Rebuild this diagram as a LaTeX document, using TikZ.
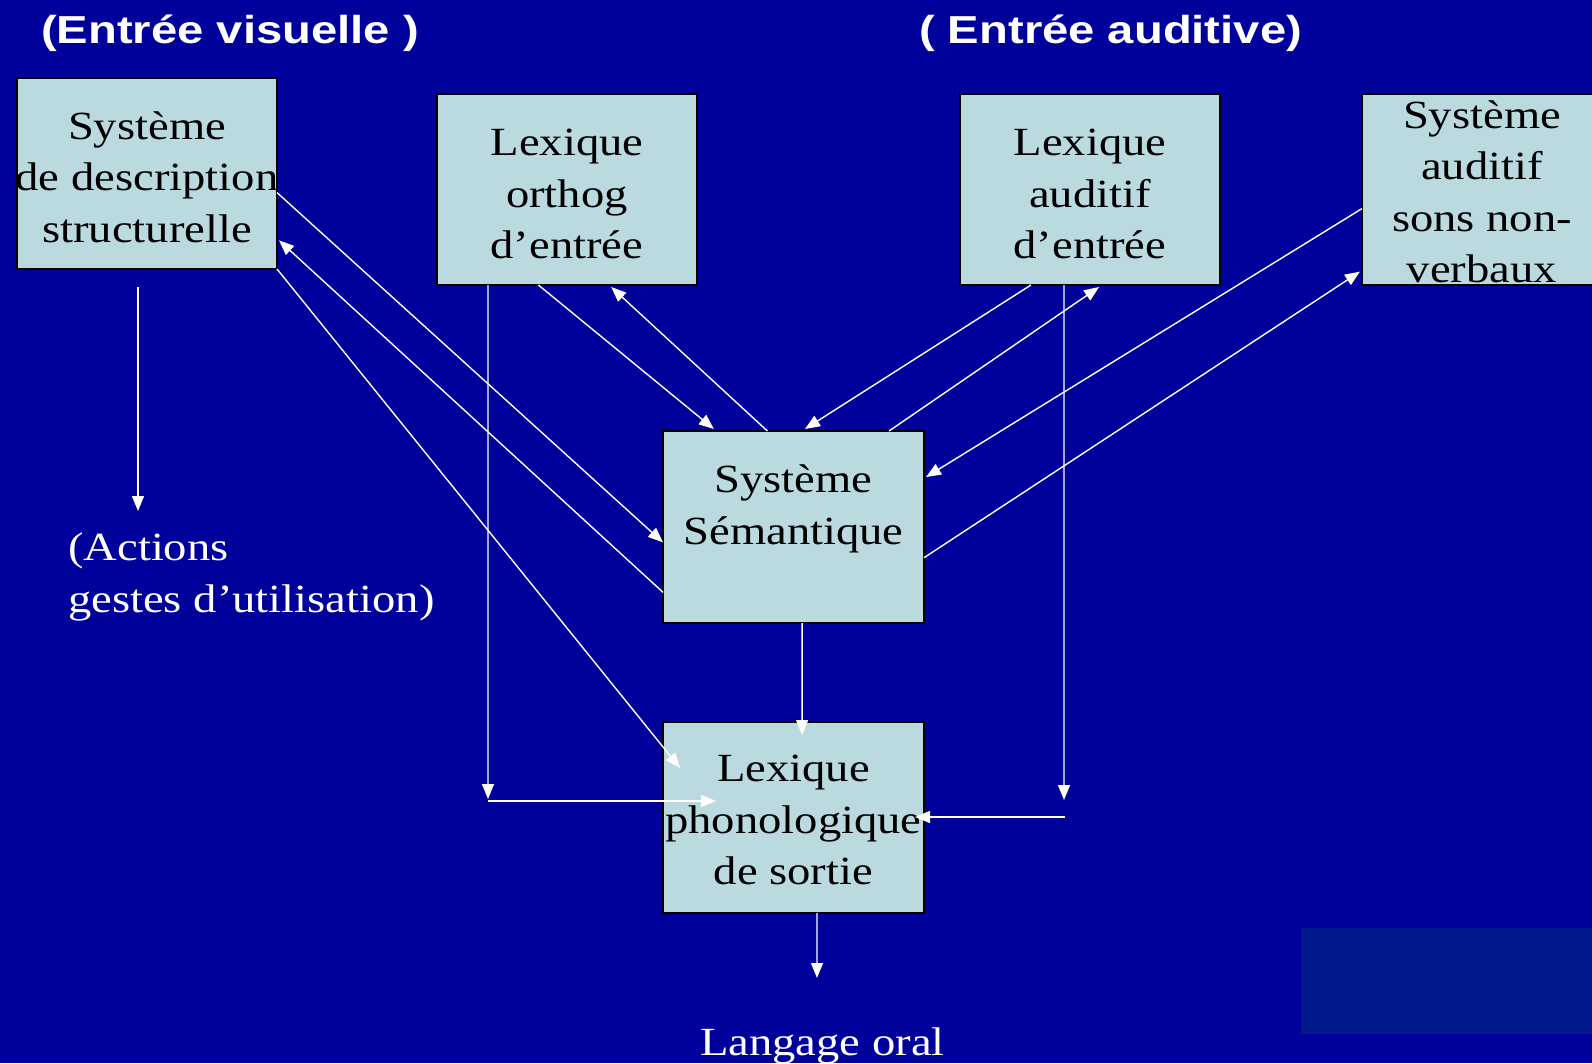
\documentclass[tikz,border=0pt]{standalone}
\usepackage{fontspec}
\setmainfont{Liberation Serif}
\newfontfamily\serifx{Liberation Serif}[FakeStretch=1.165]
\newfontfamily\sansx{Liberation Sans}[FakeStretch=1.21]
\usetikzlibrary{arrows.meta,calc}
\definecolor{bgblue}{RGB}{0,0,155}
\definecolor{patchblue}{RGB}{0,26,140}
\definecolor{boxfill}{RGB}{186,218,224}
\begin{document}
\begin{tikzpicture}[x=1pt,y=1pt,
  box/.style={draw=black, line width=1.5pt, fill=boxfill, minimum width=260pt, minimum height=191pt, inner sep=0pt, outer sep=0pt},
  boxtext/.style={font=\serifx\fontsize{40}{51.5}\selectfont, align=center, inner sep=0pt, text=black},
  wtext/.style={font=\serifx\fontsize{40}{51.5}\selectfont, align=left, inner sep=0pt, text=white},
  titletext/.style={font=\sansx\bfseries\fontsize{39}{46}\selectfont, text=white, inner sep=0pt, anchor=west},
  conn/.style={draw=white, line width=1.4pt, -{Triangle[length=15pt,width=12pt]}},
  plainline/.style={draw=white, line width=1.4pt}
]
\path[use as bounding box] (0,0) rectangle (1592,-1063);
\clip (0,0) rectangle (1592,-1063);
\fill[bgblue] (0,0) rectangle (1592,-1063);
\fill[patchblue] (1301,-928) rectangle (1592,-1034);

% titles
\node[titletext] (tv) at (41,-33) {(Entrée visuelle )};
\node[titletext] (ta) at (919,-33) {( Entrée auditive)};

% boxes
\node[box] (b1) at (147,-173.5) {};
\node[box] (b2) at (567,-189.5) {};
\node[box] (b3) at (1090,-189.5) {};
\node[box] (b4) at (1492,-189.5) {};
\node[box, minimum width=261pt, minimum height=192pt] (b5) at (793.5,-527) {};
\node[box, minimum width=261pt] (b6) at (793.5,-817.5) {};

% box texts
\node[boxtext] (t1) at (147,-177) {Système\\de description\\structurelle};
\node[boxtext] (t2) at (567,-194) {Lexique\\orthog\\d’entrée};
\node[boxtext] (t3) at (1090,-194) {Lexique\\auditif\\d’entrée};
\node[boxtext] (t4) at (1482,-192) {Système\\auditif\\sons non-\\verbaux};
\node[boxtext] (t5) at (793.5,-509) {Système\\Sémantique};
\node[boxtext] (t6) at (793.5,-820) {Lexique\\phonologique\\de sortie};

% free texts
\node[wtext, anchor=west] (act) at (68,-577) {(Actions\\gestes d’utilisation)};
\node[wtext, anchor=west] (lo) at (700,-1046) {Langage oral};

% free-end coordinates
\coordinate (c1s) at (138,-287);
\coordinate (c1e) at (138,-511);
\coordinate (c5) at (488,-799);
\coordinate (c5h) at (488,-801);
\coordinate (c10) at (1064,-800);
\coordinate (c10h) at (1065,-817);
\coordinate (c14) at (817,-978);

% connectors
\draw[conn] (c1s) -- (c1e);
\draw[conn] ($(b1.north east)!0.60!(b1.south east)$) -- ($(b5.north west)!0.58!(b5.south west)$);
\draw[conn] ($(b5.north west)!0.84!(b5.south west)$) -- ([xshift=2pt]$(b1.north east)!0.85!(b1.south east)$);
\draw[conn] (b1.south east) -- ($(b6.north west)+(17,-46)$);

\draw[conn] ($(b2.south west)!0.196!(b2.south east)$) -- (c5);
\draw[conn] (c5h) -- ($(b6.north west)+(53,-79)$);
\draw[conn] ($(b2.south west)!0.39!(b2.south east)$) -- ([yshift=2pt]$(b5.north west)!0.195!(b5.north east)$);
\draw[conn] ($(b5.north west)!0.40!(b5.north east)$) -- ([yshift=-2pt]$(b2.south west)!0.67!(b2.south east)$);

\draw[conn] ($(b3.south west)!0.273!(b3.south east)$) -- ([yshift=2pt]$(b5.north west)!0.544!(b5.north east)$);
\draw[conn] ($(b5.north west)!0.866!(b5.north east)$) -- ([yshift=-2pt]$(b3.south west)!0.535!(b3.south east)$);
\draw[conn] ($(b3.south west)!0.40!(b3.south east)$) -- (c10);
\draw[conn] (c10h) -- ($(b6.north east)+(-9,-95)$);

\draw[conn] ($(b4.north west)!0.60!(b4.south west)$) -- ([xshift=2pt]$(b5.north east)!0.24!(b5.south east)$);
\draw[conn] ($(b5.north east)!0.66!(b5.south east)$) -- ([xshift=-2pt]$(b4.north west)!0.93!(b4.south west)$);

\draw[conn] ($(b5.south west)!0.533!(b5.south east)$) -- ($(b6.north)+(8.6,-13)$);
\draw[conn] ($(b6.south west)!0.59!(b6.south east)$) -- (c14);
\end{tikzpicture}
\end{document}
